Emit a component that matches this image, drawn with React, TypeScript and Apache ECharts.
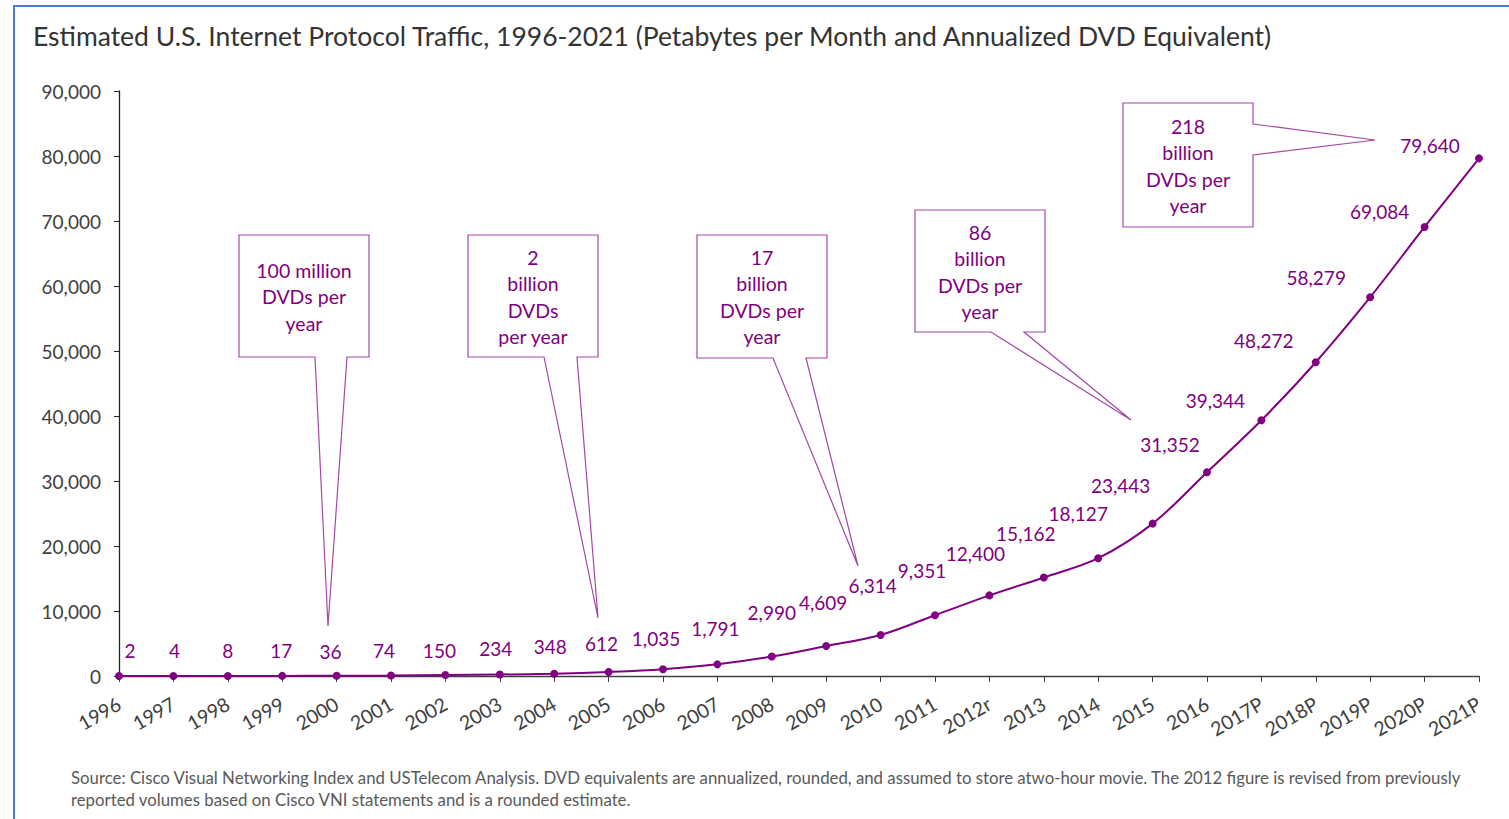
import React, { useEffect, useRef } from "react";
import * as echarts from "echarts";

const categories = ["1996","1997","1998","1999","2000","2001","2002","2003","2004","2005","2006","2007","2008","2009","2010","2011","2012r","2013","2014","2015","2016","2017P","2018P","2019P","2020P","2021P"];
const trafficPB = [2,4,8,17,36,74,150,234,348,612,1035,1791,2990,4609,6314,9351,12400,15162,18127,23443,31352,39344,48272,58279,69084,79640];
const yTicks = { min: 0, max: 90000, interval: 10000 };

// label placement (layout only)
const labelOffsets: [number, number][] = [
  [11,-25],[1,-25],[0,-25],[-1,-25],[-6,-24],[-7,-25],[-6,-25],[-4,-26],[-4,-27],[-7,-29],[-7,-31],
  [-2,-36],[0,-44],[-3,-44],[-8,-49],[-13,-45],[-14,-42],[-18,-44],[-20,-45],[-32,-38],[-37,-28],
  [-46,-20],[-52,-22],[-54,-20],[-45,-15],[-49,-13]
];

const calloutTexts = [
  ["100 million", "DVDs per", "year"],
  ["2", "billion", "DVDs", "per year"],
  ["17", "billion", "DVDs per", "year"],
  ["86", "billion", "DVDs per", "year"],
  ["218", "billion", "DVDs per", "year"],
];

const TITLE = "Estimated U.S. Internet Protocol Traffic, 1996-2021 (Petabytes per Month and Annualized DVD Equivalent)";
const SOURCE1 = "Source: Cisco Visual Networking Index and USTelecom Analysis. DVD equivalents are annualized, rounded, and assumed to store atwo-hour movie. The 2012 figure is revised from previously";
const SOURCE2 = "reported volumes based on Cisco VNI statements and is a rounded estimate.";

const PURPLE = "#800080";
const BOX = "#a349a4";
const FONT = "Lato, 'Noto Sans', sans-serif";

function calloutBottom(x0: number, y0: number, w: number, h: number, w1: number, w2: number, px: number, py: number) {
  return [[x0, y0], [x0 + w, y0], [x0 + w, y0 + h], [w2, y0 + h], [px, py], [w1, y0 + h], [x0, y0 + h]];
}

export default function App() {
  const ref = useRef<HTMLDivElement>(null);
  useEffect(() => {
    document.body.style.margin = "0";
    const chart = echarts.init(ref.current!, null, { renderer: "svg" });
    const boxes = [
      { pts: calloutBottom(239, 235, 130, 122, 315, 347, 328, 626), cx: 304, ty: 270 },
      { pts: calloutBottom(468, 235, 130, 122, 544, 577, 598, 618), cx: 533, ty: 257 },
      { pts: calloutBottom(697, 235, 130, 123, 773, 806, 858, 566), cx: 762, ty: 257 },
      { pts: calloutBottom(915, 210, 130, 122, 991, 1024, 1131, 420), cx: 980, ty: 232 },
      { pts: [[1123,103],[1253,103],[1253,124],[1375,140],[1253,155],[1253,227],[1123,227]], cx: 1188, ty: 126 },
    ];
    const graphics: any[] = [
      { type: "rect", shape: { x: 14, y: 6, width: 1600, height: 900 }, style: { fill: "none", stroke: "#4a7bd0", lineWidth: 2 }, silent: true },
    ];
    boxes.forEach((b, i) => {
      graphics.push({ type: "polygon", shape: { points: b.pts }, style: { fill: "#fff", stroke: BOX, lineWidth: 1.2 }, z: 10 });
      calloutTexts[i].forEach((t, j) => {
        graphics.push({ type: "text", x: b.cx, y: b.ty + j * 26.5, z: 11,
          style: { text: t, fill: PURPLE, font: `19.5px ${FONT}`, textAlign: "center", textVerticalAlign: "middle" } });
      });
    });
    graphics.push({ type: "text", x: 33, y: 36, style: { text: TITLE, fill: "#333", font: `26.5px ${FONT}`, textVerticalAlign: "middle" } });
    graphics.push({ type: "text", x: 71, y: 777, style: { text: SOURCE1, fill: "#595959", font: `16.8px ${FONT}`, textVerticalAlign: "middle" } });
    graphics.push({ type: "text", x: 71, y: 799, style: { text: SOURCE2, fill: "#595959", font: `16.8px ${FONT}`, textVerticalAlign: "middle" } });

    chart.setOption({
      animation: false,
      backgroundColor: "#fff",
      grid: { left: 119, right: 30, top: 91, bottom: 143, containLabel: false },
      xAxis: {
        type: "category", data: categories, boundaryGap: false,
        axisLine: { lineStyle: { color: "#404040", width: 1.3 } },
        axisTick: { show: true, length: 6, lineStyle: { color: "#404040" } },
        axisLabel: { rotate: 30, fontSize: 19.5, color: "#404040", fontFamily: FONT, margin: 26, interval: 0 },
      },
      yAxis: {
        type: "value", min: yTicks.min, max: yTicks.max, interval: yTicks.interval,
        axisLine: { show: true, lineStyle: { color: "#222", width: 1.3 } },
        axisTick: { show: true, length: 5, lineStyle: { color: "#222" } },
        splitLine: { show: false },
        axisLabel: { fontSize: 19, color: "#404040", fontFamily: FONT, margin: 18,
          formatter: (v: number) => v.toLocaleString("en-US") },
      },
      series: [{
        type: "line", data: trafficPB.map((v, i) => ({ value: v, label: { offset: labelOffsets[i] } })),
        smooth: 0.35, symbol: "circle", symbolSize: 8,
        lineStyle: { color: PURPLE, width: 2 }, itemStyle: { color: PURPLE },
        label: { show: true, position: "inside", color: PURPLE, fontSize: 19, fontFamily: FONT,
          align: "center", verticalAlign: "middle",
          formatter: (p: any) => Number(p.value).toLocaleString("en-US") },
        z: 5,
      }],
      graphic: graphics,
    });
    return () => chart.dispose();
  }, []);
  return <div ref={ref} style={{ width: 1509, height: 819, position: "absolute", left: 0, top: 0 }} />;
}
